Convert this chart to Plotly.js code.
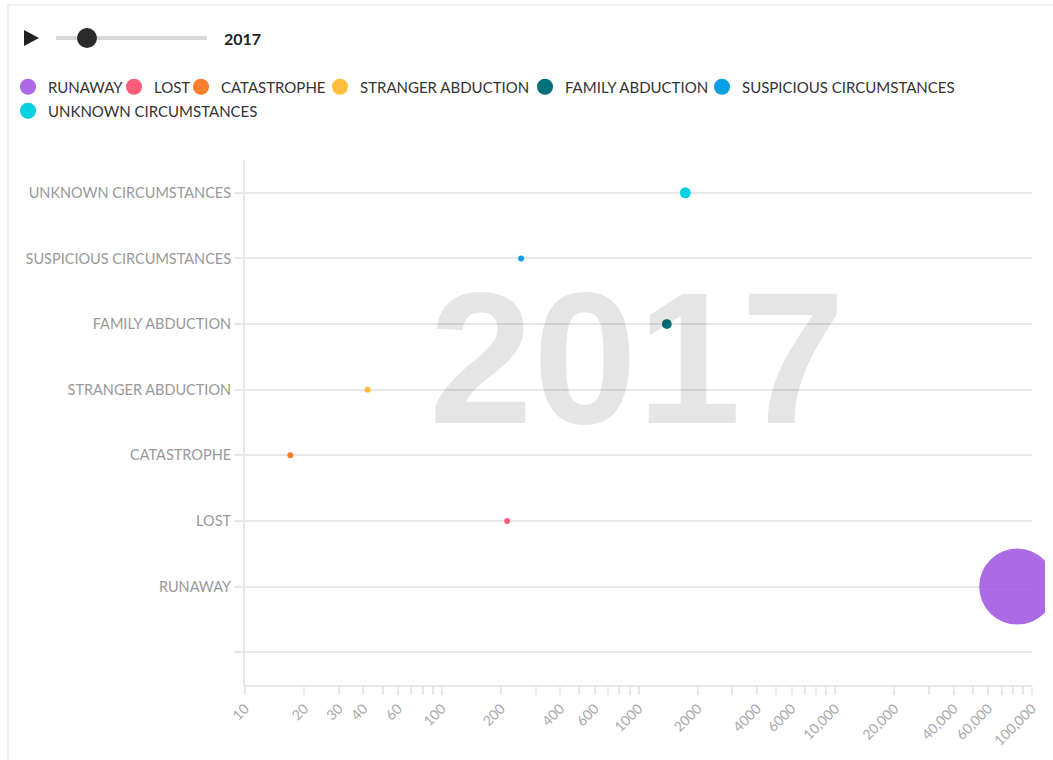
<!DOCTYPE html>
<html>
<head>
<meta charset="utf-8">
<script src="https://cdn.plot.ly/plotly-3.0.1.min.js"></script>
<style>
  html, body { margin: 0; padding: 0; background: #ffffff; overflow: hidden; }
  #card { position: absolute; left: 7px; top: 4px; width: 1100px; height: 800px;
          border-left: 2px solid #efefef; border-top: 2px solid #f2f2f2; }
  #chart { position: absolute; left: 0; top: 0; width: 1045px; height: 760px; }
</style>
</head>
<body>
<div id="card"></div>
<div id="chart"></div>
<script>
// ---- data ----
var year = '2017';
var categories = ['RUNAWAY', 'LOST', 'CATASTROPHE', 'STRANGER ABDUCTION',
                  'FAMILY ABDUCTION', 'SUSPICIOUS CIRCUMSTANCES', 'UNKNOWN CIRCUMSTANCES'];
var counts = [84100, 215, 17, 42, 1393, 253, 1730];
var colors = ['#9b51e0', '#ff5c7c', '#fd7f2b', '#ffbf3c', '#00707a', '#0aa0e6', '#05d0e0'];
var xTickVals = [10,20,30,40,50,60,70,80,90,
                 100,200,300,400,500,600,700,800,900,
                 1000,2000,3000,4000,5000,6000,7000,8000,9000,
                 10000,20000,30000,40000,50000,60000,70000,80000,90000,100000];
var xTickText = ['10','20','30','40','','60','','','',
                 '100','200','','400','','600','','','',
                 '1000','2000','','4000','','6000','','','',
                 '10,000','20,000','','40,000','','60,000','','','','100,000'];

// ---- layout helpers (pixel -> paper) ----
var M = {l: 245, r: 13, t: 160, b: 75};
var W = 1045, H = 760;
var PW = W - M.l - M.r, PH = H - M.t - M.b;
function fx(px) { return (px - M.l) / PW; }
function fy(py) { return (H - M.b - py) / PH; }

var maxRadius = 38;
var maxCount = Math.max.apply(null, counts);
var sizeref = maxCount / (2 * maxRadius * maxRadius);

// legend entry placement (pixel: left of entry, top of row)
var legendLeft = [8, 114, 181, 320, 525, 702, 8];
var legendTop  = [70.5, 70.5, 70.5, 70.5, 70.5, 70.5, 94.5];

var traces = categories.map(function (c, i) {
  return {
    type: 'scatter',
    mode: 'markers',
    name: c,
    legend: i === 0 ? 'legend' : 'legend' + (i + 1),
    x: [counts[i]],
    y: [i],
    cliponaxis: false,
    hoverinfo: 'x+name',
    marker: {
      color: colors[i],
      size: [counts[i]],
      sizemode: 'area',
      sizeref: sizeref,
      sizemin: 3,
      opacity: i === 0 ? 0.85 : 1,
      line: {width: 0}
    }
  };
});

var yVals = [-1].concat(categories.map(function (c, i) { return i; }));
var yText = [''].concat(categories);

var layout = {
  width: W, height: H,
  margin: M,
  paper_bgcolor: 'rgba(0,0,0,0)',
  plot_bgcolor: 'rgba(0,0,0,0)',
  font: {family: 'Lato, "Open Sans", sans-serif', color: '#333'},
  showlegend: true,
  xaxis: {
    type: 'log',
    range: [1, 5],
    tickmode: 'array',
    tickvals: xTickVals,
    ticktext: xTickText,
    tickangle: -45,
    ticks: 'outside',
    ticklen: 8,
    tickwidth: 2,
    tickcolor: '#e8e8e8',
    showgrid: false,
    zeroline: false,
    showline: true,
    linecolor: '#e8e8e8',
    linewidth: 2,
    tickfont: {size: 14, color: '#aaaaaa', family: 'Lato, sans-serif'},
    fixedrange: true
  },
  yaxis: {
    range: [-1.5, 6.5],
    tickmode: 'array',
    tickvals: yVals,
    ticktext: yText,
    ticks: 'outside',
    ticklen: 9,
    tickwidth: 2,
    tickcolor: '#e8e8e8',
    showgrid: true,
    gridcolor: '#e8e8e8',
    gridwidth: 2,
    zeroline: false,
    showline: true,
    linecolor: '#e8e8e8',
    linewidth: 2,
    tickfont: {size: 14.5, color: '#999999', family: 'Lato, sans-serif'},
    fixedrange: true
  },
  shapes: [
    // play button
    {type: 'path', xref: 'paper', yref: 'paper',
     path: 'M ' + fx(24) + ' ' + fy(30) + ' L ' + fx(39) + ' ' + fy(38) + ' L ' + fx(24) + ' ' + fy(46) + ' Z',
     fillcolor: '#222222', line: {width: 0}},
    // slider rail
    {type: 'line', xref: 'paper', yref: 'paper',
     x0: fx(56), x1: fx(207), y0: fy(38), y1: fy(38),
     line: {color: '#d8d8d8', width: 4}},
    // slider knob
    {type: 'circle', xref: 'paper', yref: 'paper',
     x0: fx(77), x1: fx(97), y0: fy(28), y1: fy(48),
     fillcolor: '#2b2b2b', line: {width: 0}}
  ],
  annotations: [
    {text: '<b>' + year + '</b>', xref: 'paper', yref: 'paper',
     x: fx(222), y: fy(38), xanchor: 'left', yanchor: 'middle', showarrow: false,
     font: {size: 16, color: '#222', family: 'Lato, sans-serif'}},
    {text: '<b>' + year + '</b>', xref: 'paper', yref: 'paper',
     x: fx(637), y: fy(358), xanchor: 'center', yanchor: 'middle', showarrow: false,
     font: {size: 187, color: 'rgba(0,0,0,0.1)', family: '"Liberation Sans", Arial, sans-serif'}}
  ]
};

categories.forEach(function (c, i) {
  var key = i === 0 ? 'legend' : 'legend' + (i + 1);
  layout[key] = {
    orientation: 'h',
    xref: 'container', yref: 'container',
    x: legendLeft[i] / W, y: 1 - legendTop[i] / H,
    xanchor: 'left', yanchor: 'top',
    font: {size: 15, color: '#333', family: 'Lato, sans-serif'},
    itemsizing: 'trace',
    bgcolor: 'rgba(0,0,0,0)',
    borderwidth: 0
  };
});

Plotly.newPlot('chart', traces, layout, {displayModeBar: false});
</script>
</body>
</html>
